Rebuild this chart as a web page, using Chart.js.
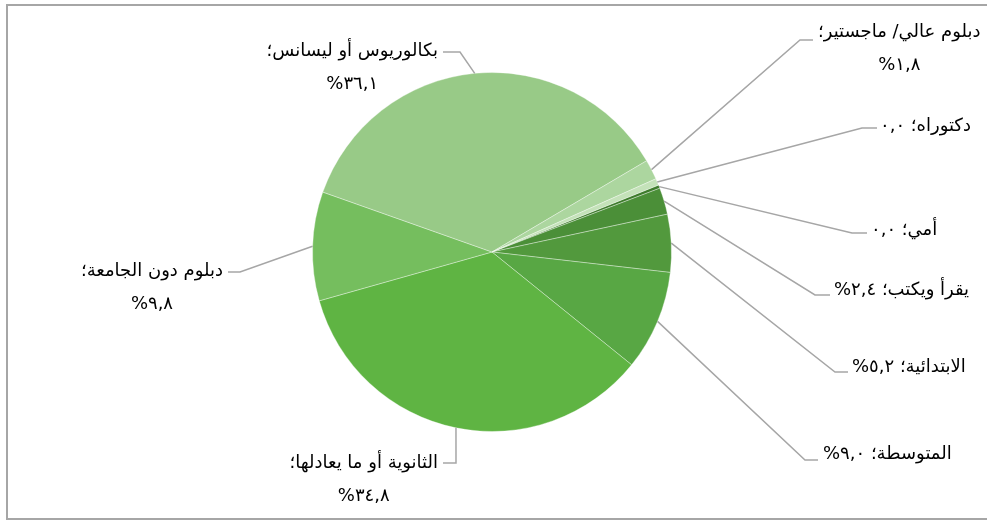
<!DOCTYPE html>
<html lang="ar">
<head>
<meta charset="utf-8">
<title>المستوى التعليمي</title>
<script src="https://cdn.jsdelivr.net/npm/chart.js@4.4.1/dist/chart.umd.min.js"></script>
<style>
  html, body { margin: 0; padding: 0; background: #fff; overflow: hidden; }
  #wrap { position: relative; width: 987px; height: 521px; }
</style>
</head>
<body>
<div id="wrap"><canvas id="pie" width="987" height="521"></canvas></div>
<script>
// categories, clockwise from the first slice
const categories = [
  'أمي',
  'يقرأ ويكتب',
  'الابتدائية',
  'المتوسطة',
  'الثانوية أو ما يعادلها',
  'دبلوم دون الجامعة',
  'بكالوريوس أو ليسانس',
  'دبلوم عالي/ ماجستير',
  'دكتوراه'
];
// share of respondents (%)
const shares = [0.3, 2.4, 5.2, 9.0, 34.8, 9.8, 36.1, 1.8, 0.6];
// value texts as printed on the data labels
const valueLabels = ['٠,٠', '٢,٤%', '٥,٢%', '٩,٠%', '٣٤,٨%', '٩,٨%', '٣٦,١%', '١,٨%', '٠,٠'];
const sliceColors = ['#3e7c2c', '#4b8f38', '#52993d', '#58a744', '#5fb443', '#75be5e', '#98ca87', '#acd69f', '#c4e2b9'];

// label placement: text anchor, leader elbow and end, single or two lines
const labelLayout = [
  { one: true,  x: 871, y: 235, elbow: [852, 233], end: [867, 233] },
  { one: true,  x: 834, y: 295, elbow: [815, 295], end: [830, 295] },
  { one: true,  x: 852, y: 372, elbow: [835, 372], end: [848, 372] },
  { one: true,  x: 823, y: 459, elbow: [805, 460], end: [818, 460] },
  { one: false, x: 438, y: 468, elbow: [456, 463], end: [443, 463], side: 'right' },
  { one: false, x: 223, y: 276, elbow: [240, 272], end: [228, 272], side: 'right' },
  { one: false, x: 438, y: 56,  elbow: [460, 52],  end: [443, 52],  side: 'right' },
  { one: false, x: 818, y: 37,  elbow: [800, 40],  end: [813, 40],  side: 'left' },
  { one: true,  x: 880, y: 131, elbow: [862, 128], end: [877, 128] }
];

const frame = {
  id: 'frame',
  beforeDraw(chart) {
    const ctx = chart.ctx;
    ctx.save();
    ctx.strokeStyle = '#a6a6a6';
    ctx.lineWidth = 2;
    ctx.strokeRect(7, 5, 1010, 514);
    ctx.restore();
  }
};

const leaderLabels = {
  id: 'leaderLabels',
  afterDatasetsDraw(chart) {
    const ctx = chart.ctx;
    const arcs = chart.getDatasetMeta(0).data;
    ctx.save();
    ctx.font = '18px "DejaVu Sans", sans-serif';
    ctx.fillStyle = '#000';
    ctx.textBaseline = 'alphabetic';
    ctx.direction = 'rtl';
    arcs.forEach((arc, i) => {
      const p = arc.getProps(['x', 'y', 'startAngle', 'endAngle', 'outerRadius'], true);
      const mid = (p.startAngle + p.endAngle) / 2;
      const ax = p.x + Math.cos(mid) * p.outerRadius;
      const ay = p.y + Math.sin(mid) * p.outerRadius;
      const L = labelLayout[i];

      ctx.strokeStyle = '#a6a6a6';
      ctx.lineWidth = 1.5;
      ctx.beginPath();
      ctx.moveTo(ax, ay);
      ctx.lineTo(L.elbow[0], L.elbow[1]);
      ctx.lineTo(L.end[0], L.end[1]);
      ctx.stroke();

      if (L.one) {
        ctx.textAlign = 'left';
        ctx.fillText(categories[i] + '؛ ' + valueLabels[i], L.x, L.y);
      } else {
        const line1 = categories[i] + '؛';
        const w = ctx.measureText(line1).width;
        const cx = L.side === 'right' ? L.x - w / 2 : L.x + w / 2;
        ctx.textAlign = 'center';
        ctx.fillText(line1, cx, L.y);
        ctx.fillText(valueLabels[i], cx, L.y + 33);
      }
    });
    ctx.restore();
  }
};

new Chart(document.getElementById('pie'), {
  type: 'pie',
  data: {
    labels: categories,
    datasets: [{
      data: shares,
      backgroundColor: sliceColors,
      borderColor: 'rgba(255,255,255,0.35)',
      borderWidth: 1
    }]
  },
  options: {
    responsive: false,
    animation: false,
    rotation: 68.1,
    layout: {
      padding: { left: 312, right: 315, top: 72, bottom: 89 }
    },
    plugins: {
      legend: { display: false },
      tooltip: { enabled: false },
      title: { display: false }
    }
  },
  plugins: [frame, leaderLabels]
});
</script>
</body>
</html>
